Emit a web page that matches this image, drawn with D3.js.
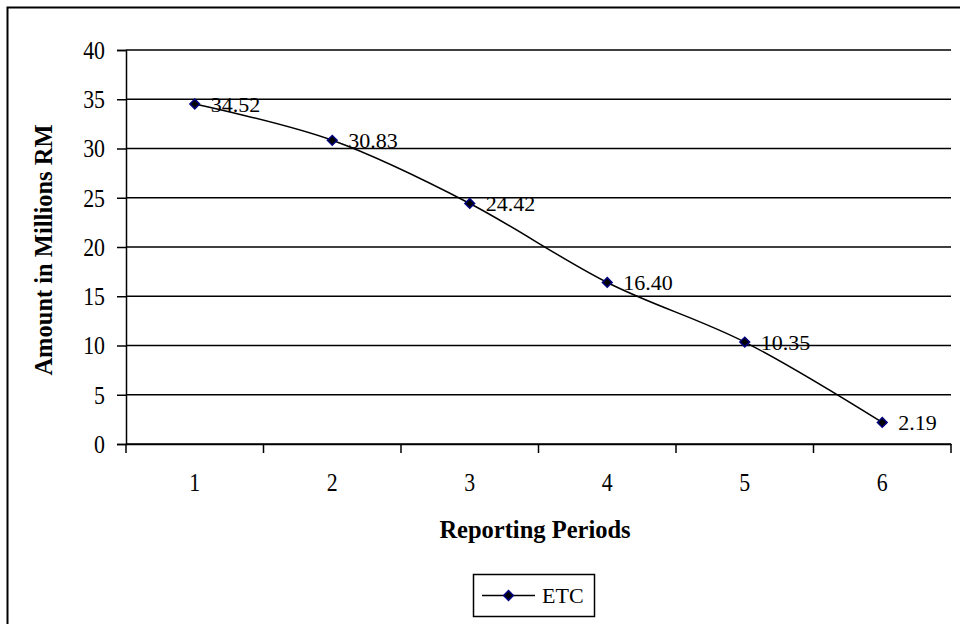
<!DOCTYPE html>
<html>
<head>
<meta charset="utf-8">
<script src="https://cdn.jsdelivr.net/npm/d3@7"></script>
<style>
  body { margin: 0; background: #fff; }
  svg { display: block; font-family: "Liberation Serif", "Times New Roman", serif; }
</style>
</head>
<body>
<div class="canvas"></div>
<script>
// data
const periods = [1, 2, 3, 4, 5, 6];
const etc = [34.52, 30.83, 24.42, 16.40, 10.35, 2.19];
const yTicks = [0, 5, 10, 15, 20, 25, 30, 35, 40];
const seriesName = 'ETC';

const width = 960, height = 624;

const svg = d3.select('.canvas').append('svg')
    .attr('width', width)
    .attr('height', height);

// outer chart border (runs off the page right/bottom)
svg.append('rect')
    .attr('x', 7.5).attr('y', 7.5)
    .attr('width', 1000).attr('height', 700)
    .attr('fill', 'none')
    .attr('stroke', '#000')
    .attr('stroke-width', 2);

// scales
const x = d3.scaleBand()
    .domain(periods)
    .range([126, 951]);

const y = d3.scaleLinear()
    .domain([0, 40])
    .range([444, 50]);

// gridlines
svg.append('g')
    .selectAll('line')
    .data(yTicks)
    .join('line')
    .attr('x1', 126).attr('x2', 951)
    .attr('y1', d => y(d)).attr('y2', d => y(d))
    .attr('stroke', '#000')
    .attr('stroke-width', 1.5);

// y axis
const yAxis = svg.append('g')
    .attr('transform', 'translate(126,0)')
    .call(d3.axisLeft(y).tickValues(yTicks).tickSize(9).tickPadding(12));
yAxis.select('.domain').attr('stroke-width', 1.5);
yAxis.selectAll('.tick line').attr('stroke-width', 1.5);
yAxis.selectAll('text')
    .attr('font-family', '"Liberation Serif", serif')
    .attr('font-size', 26)
    .attr('x', -25)
    .attr('transform', 'scale(0.84,1)')
    .attr('fill', '#000');

// x axis
const xAxis = svg.append('g')
    .attr('transform', 'translate(0,444)')
    .call(d3.axisBottom(x).tickSize(0).tickPadding(29));
xAxis.select('.domain').attr('stroke-width', 1.5);
xAxis.selectAll('text')
    .attr('font-family', '"Liberation Serif", serif')
    .attr('font-size', 26)
    .attr('transform', 'scale(0.84,1)')
    .attr('fill', '#000');

// category boundary ticks
const bounds = periods.map(p => x(p)).concat([x(periods[periods.length - 1]) + x.bandwidth()]);
svg.append('g')
    .selectAll('line')
    .data(bounds)
    .join('line')
    .attr('x1', d => d).attr('x2', d => d)
    .attr('y1', 444).attr('y2', 453)
    .attr('stroke', '#000')
    .attr('stroke-width', 1.5);

// axis titles
svg.append('text')
    .attr('x', 535).attr('y', 538)
    .attr('text-anchor', 'middle')
    .attr('font-size', 24.5)
    .attr('font-weight', 'bold')
    .text('Reporting Periods');

svg.append('text')
    .attr('transform', `translate(52,250) rotate(-90)`)
    .attr('text-anchor', 'middle')
    .attr('font-size', 24.5)
    .attr('font-weight', 'bold')
    .text('Amount in Millions RM');

// series line (smoothed)
const cx = (d, i) => x(periods[i]) + x.bandwidth() / 2;
const line = d3.line()
    .x((d, i) => cx(d, i))
    .y(d => y(d))
    .curve(d3.curveCardinal.tension(0));

svg.append('path')
    .datum(etc)
    .attr('d', line)
    .attr('fill', 'none')
    .attr('stroke', '#000')
    .attr('stroke-width', 1.5);

// markers
const diamond = d3.symbol().type(d3.symbolDiamond2).size(60);
svg.append('g')
    .selectAll('path')
    .data(etc)
    .join('path')
    .attr('d', diamond)
    .attr('transform', (d, i) => `translate(${cx(d, i)},${y(d)})`)
    .attr('fill', '#000')
    .attr('stroke', '#000080')
    .attr('stroke-width', 1.5);

// data labels
svg.append('g')
    .selectAll('text')
    .data(etc)
    .join('text')
    .attr('x', (d, i) => cx(d, i) + 16)
    .attr('y', d => y(d) + 8)
    .attr('font-size', 22)
    .attr('fill', '#000')
    .text(d => d.toFixed(2));

// legend
const lg = svg.append('g').attr('transform', 'translate(473,574)');
lg.append('rect')
    .attr('x', 0.5).attr('y', 0.5)
    .attr('width', 121).attr('height', 42)
    .attr('fill', '#fff')
    .attr('stroke', '#000')
    .attr('stroke-width', 1.5);
lg.append('line')
    .attr('x1', 9).attr('x2', 62)
    .attr('y1', 21.5).attr('y2', 21.5)
    .attr('stroke', '#000')
    .attr('stroke-width', 1.5);
lg.append('path')
    .attr('d', diamond)
    .attr('transform', 'translate(35.5,21.5)')
    .attr('fill', '#000')
    .attr('stroke', '#000080')
    .attr('stroke-width', 1.5);
lg.append('text')
    .attr('x', 69).attr('y', 29)
    .attr('font-size', 22)
    .text(seriesName);
</script>
</body>
</html>
